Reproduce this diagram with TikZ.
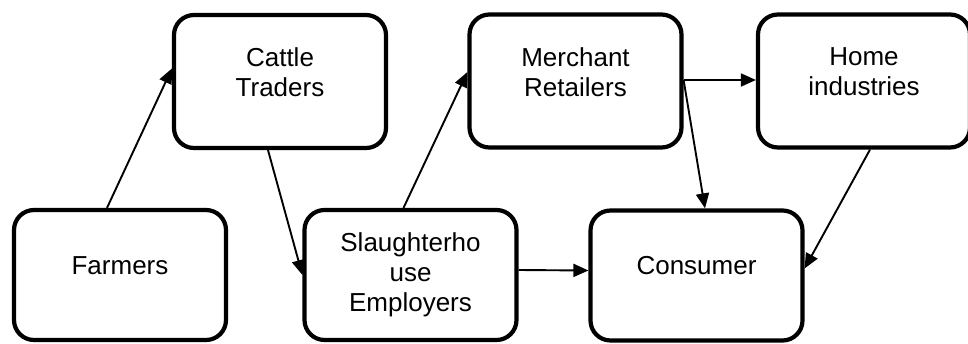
\documentclass[tikz,border=0pt]{standalone}
\usepackage{fontspec}
\setmainfont{Liberation Sans}
\usetikzlibrary{arrows.meta,calc}
\begin{document}
\begin{tikzpicture}[x=1pt,y=-1pt,
  box/.style={draw=black,line width=4.2pt,rounded corners=20pt,minimum width=212pt,inner sep=0pt,fill=white},
  top/.style={box,minimum height=133pt},
  bot/.style={box,minimum height=130pt},
  txt/.style={align=center,inner sep=0pt,font=\fontsize{26}{30}\selectfont},
  conn/.style={line width=1.9pt,-{Triangle[length=15pt,width=13pt]}}]
\useasboundingbox (0,0) rectangle (968,343);
% boxes
\node[bot] (farm) at (120,275) {};
\node[top] (cattle) at (280,81.5) {};
\node[bot] (slaught) at (410.5,275) {};
\node[top] (merch) at (575.5,81) {};
\node[top] (home) at (864,81) {};
\node[bot] (cons) at (696.5,275.5) {};
% labels
\node[txt] (farmT) at (120,266) {Farmers};
\node[txt] (cattleT) at (280,72) {Cattle\\Traders};
\node[txt] (slaughtT) at (410.5,275) {Slaughterho\\use\\Employers};
\node[txt] (merchT) at (575.5,72) {Merchant\\Retailers};
\node[txt] (homeT) at (864,72) {Home\\industries};
\node[txt] (consT) at (696.5,266) {Consumer};
% connectors
\draw[conn] ($(farm.north)+(-13,0)$) -- ($(cattle.west)+(0,-13)$);
\draw[conn] ($(cattle.south)+(-12,0)$) -- (slaught.west);
\draw[conn] ($(slaught.north)+(-7,0)$) -- ($(merch.west)+(0,-9)$);
\draw[conn] ($(merch.east)+(0,-1)$) -- ($(home.west)+(0,-1)$);
\draw[conn] ($(merch.east)+(0,-1)$) -- ($(cons.north)+(8.5,0)$);
\draw[conn] ($(home.south)+(6,0)$) -- ($(cons.east)+(0,-7)$);
\draw[conn] ($(slaught.east)+(0,-5)$) -- ($(cons.west)+(0,-5)$);
\end{tikzpicture}
\end{document}
